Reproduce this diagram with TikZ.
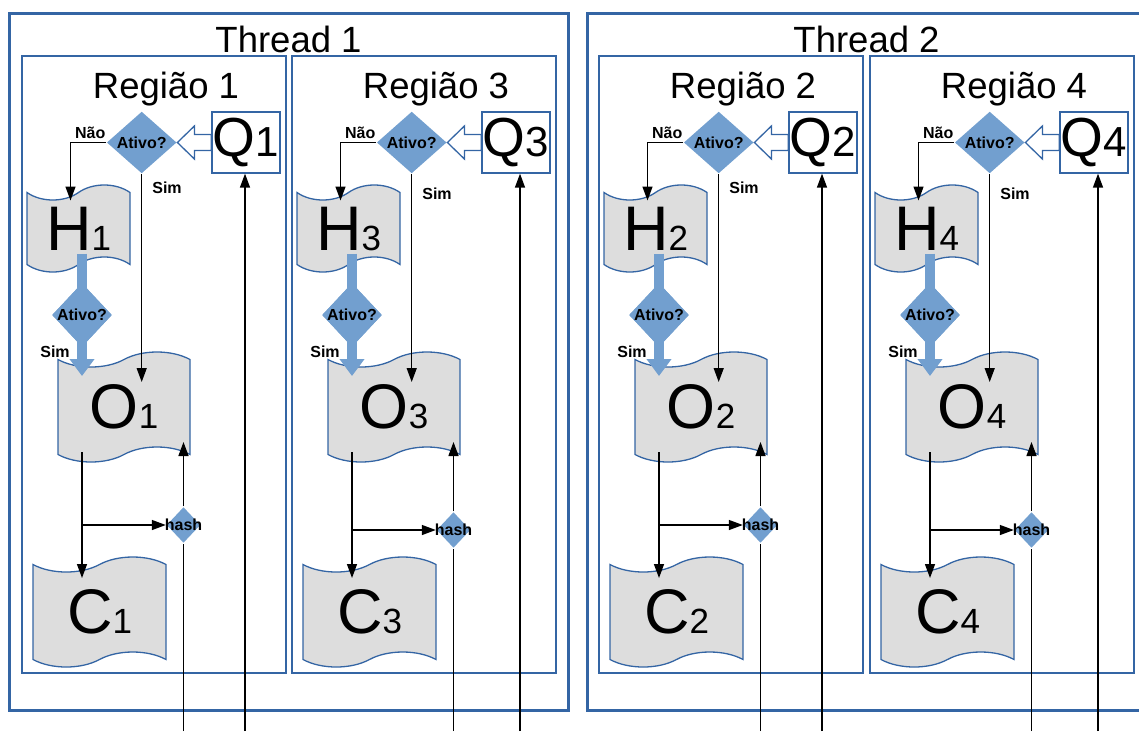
\documentclass[tikz,border=0pt]{standalone}
\usepackage{fontspec}
\setmainfont{Liberation Sans}
\usetikzlibrary{shapes.geometric,shapes.symbols,arrows.meta,calc}

\definecolor{lineblue}{HTML}{3465A4}
\definecolor{fillblue}{HTML}{729FCF}
\definecolor{tapegray}{HTML}{DDDDDD}

\newcommand{\tapetext}[2]{{\fontsize{63}{63}\selectfont #1}{\fontsize{35}{35}\selectfont #2}}
\newcommand{\queuetext}[2]{{\fontsize{55}{55}\selectfont #1}{\fontsize{42}{42}\selectfont #2}}

\begin{document}
\begin{tikzpicture}[x=1pt, y=-1pt, >={Triangle[length=14pt,width=10pt]}, line width=1.4pt,
    threadbox/.style={draw=lineblue, line width=3pt, rectangle, minimum width=559pt, minimum height=697pt, inner sep=0pt},
    regionbox/.style={draw=lineblue, line width=1.3pt, rectangle, minimum width=264pt, minimum height=617pt, inner sep=0pt},
    regtitle/.style={font=\fontsize{36.5}{40}\selectfont, anchor=base, inner sep=0pt},
    qbox/.style={draw=lineblue, line width=1.3pt, fill=white, rectangle, minimum width=68pt, minimum height=61pt, inner sep=0pt},
    askdiamond/.style={diamond, fill=fillblue, inner sep=0pt, label={[lbl]center:Ativo?}},
    hashdiamond/.style={diamond, fill=fillblue, inner sep=0pt, minimum width=34pt, minimum height=36pt, label={[lbl]center:hash}},
    tapebox/.style={tape, draw=lineblue, line width=1.3pt, fill=tapegray, inner sep=0pt, tape bend top=in and out, tape bend bottom=in and out, tape bend height=15pt},
    lbl/.style={font=\fontsize{16}{16}\selectfont\bfseries, inner sep=0pt},
    wideflow/.style={draw=fillblue, line width=10pt, -{Triangle[length=17pt,width=24pt]}},
    hollowarrow/.style={draw=lineblue, fill=white, line width=1.3pt, line join=miter}]
    \useasboundingbox (0,0) rectangle (1139,731);
    \clip (0,0) rectangle (1139,731);

    % threads
    \node [threadbox] (t1) at (288.5,361.5) {};
    \node [threadbox] (t2) at (866.5,361.5) {};
    \node [regtitle] at (288.5,52) {Thread 1};
    \node [regtitle] at (866.5,52) {Thread 2};

    \foreach \r/\dx/\hy/\sy/\qx in {1/0/525/193/245, 3/270/530/199/250, 2/577/525/193/245, 4/848/530/199/250}{
      \begin{scope}[xshift=\dx]
        % Regiao \r
        \node [regionbox] (r\r) at (154,364.5) {};
        \node [regtitle] at (166,98) {Região \r};
        \node [qbox] (q\r) at (246,142.5) {\queuetext{Q}{\r}};
        \node [askdiamond, minimum width=70pt, minimum height=62pt] (a\r) at (141.7,142.5) {};
        \node [tapebox, minimum width=103pt, minimum height=87pt] (h\r) at (78.5,228.5) {\tapetext{H}{\r}};
        \node [tapebox, minimum width=132pt, minimum height=110pt] (o\r) at (124,407) {\tapetext{O}{\r}};
        \node [tapebox, minimum width=133pt, minimum height=110pt] (c\r) at (99.5,612) {\tapetext{C}{\r}};
        \node [askdiamond, minimum width=60pt, minimum height=64pt] (d\r) at (82,315) {};
        \node [hashdiamond] (k\r) at (183.5,\hy) {};
        \node [lbl, anchor=base east] (no\r) at (106,138) {Não};
        \node [lbl, anchor=base] (yes\r) at (167,\sy) {Sim};
        \node [lbl, anchor=base] (ok\r) at (55,357) {Sim};
        \coordinate (kin\r) at (183.5,731);
        \coordinate (qin\r) at (\qx,731);
        \coordinate (br\r) at (d\r |- k\r);

        \draw [hollowarrow] (a\r.east) -- ++(17,-16.5) -- ++(0,8.5) -- ($(q\r.west)+(0,-8)$)
          -- ($(q\r.west)+(0,8)$) -- ($(a\r.east)+(17,8)$) -- ++(0,8.5) -- cycle;
        \draw [->] (a\r.west) -| ($(h\r.center)+(-8,-28)$);
        \draw [->] (a\r.south) -- ($(a\r.south |- o\r.center)+(0,-25)$);
        \draw [wideflow] ($(d\r |- h\r.center)+(0,25)$) -- ($(d\r |- o\r.center)+(0,-31)$);
        \node [askdiamond, minimum width=60pt, minimum height=64pt] at (d\r) {};
        \draw [->] ($(d\r |- o\r.center)+(0,45)$) -- ($(d\r |- c\r.center)+(0,-34)$);
        \draw [->] (br\r) -- (k\r.west);
        \draw (kin\r) -- (k\r.south);
        \draw [->] (k\r.north) -- ($(k\r |- o\r.center)+(0,35)$);
        \draw [->] (qin\r) -- (qin\r |- q\r.south);
      \end{scope}
    }
\end{tikzpicture}
\end{document}
